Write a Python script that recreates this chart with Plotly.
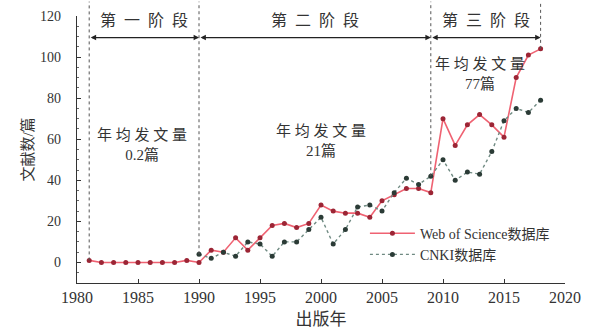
import plotly.graph_objects as go

years_wos = list(range(1981, 2019))
wos = [1, 0, 0, 0, 0, 0, 0, 0, 1, 0,
       6, 5, 12, 6, 12, 18, 19, 17, 19, 28,
       25, 24, 24, 22, 30, 33, 36, 36, 34, 70,
       57, 67, 72, 67, 61, 90, 101, 104]
years_cnki = list(range(1990, 2019))
cnki = [4, 2, 5, 3, 10, 9, 3, 10, 10, 16,
        22, 9, 16, 27, 28, 25, 34, 41, 38, 42,
        50, 40, 44, 43, 54, 69, 75, 73, 79]

stage_bounds = [1981, 1990, 2009, 2018]
stage_names = ["第\u2002一\u2002阶\u2002段", "第\u2002二\u2002阶\u2002段", "第\u2002三\u2002阶\u2002段"]
stage_avg = ["年 均 发 文 量<br>0.2篇", "年 均 发 文 量<br>21篇", "年 均 发 文 量<br>77篇"]
avg_pos = [(1985.3, 57), (2000.0, 59), (2013.0, 92)]

YMIN, YMAX = -10, 120
FONT = "Liberation Serif, Noto Sans CJK SC, serif"
TXT = "#333333"

def to_paper(v):
    return (v - YMIN) / (YMAX - YMIN)

fig = go.Figure()
fig.add_trace(go.Scatter(
    x=years_wos, y=wos, name="Web of Science数据库", mode="lines+markers",
    line=dict(color="#ef6272", width=1.6),
    marker=dict(color="#9c2535", size=5, symbol="circle"),
))
fig.add_trace(go.Scatter(
    x=years_cnki, y=cnki, name="CNKI数据库", mode="lines+markers",
    line=dict(color="#6f8a82", width=1.4, dash="dot"),
    marker=dict(color="#2b3b36", size=5, symbol="circle"),
))

def val_at(year):
    vals = []
    if year in years_wos:
        vals.append(wos[years_wos.index(year)])
    if year in years_cnki:
        vals.append(cnki[years_cnki.index(year)])
    return max(vals)

shapes = []
for b in stage_bounds:
    shapes.append(dict(type="line", xref="x", yref="paper", x0=b, x1=b,
                       y0=to_paper(val_at(b)), y1=to_paper(127),
                       line=dict(color="#555555", width=1, dash="dot")))

annotations = []
arrow_y = to_paper(109.5)
for i in range(3):
    a, b = stage_bounds[i], stage_bounds[i + 1]
    annotations.append(dict(x=b, y=arrow_y, xref="x", yref="paper",
                            ax=a, axref="x", ay=0, ayref="pixel",
                            showarrow=True, arrowhead=2, arrowside="end+start",
                            arrowsize=0.9, arrowwidth=1.2, arrowcolor="#222222",
                            text="", standoff=0, startstandoff=0))
    annotations.append(dict(x=(a + b) / 2, y=to_paper(118), xref="x", yref="paper",
                            yanchor="middle", text=stage_names[i], showarrow=False,
                            font=dict(family=FONT, size=16, color=TXT)))
    annotations.append(dict(x=avg_pos[i][0], y=to_paper(avg_pos[i][1]), xref="x", yref="paper",
                            yanchor="middle", text=stage_avg[i], showarrow=False,
                            font=dict(family=FONT, size=15, color=TXT)))

fig.update_layout(
    width=596, height=336,
    margin=dict(l=77, r=31, t=16, b=53),
    plot_bgcolor="white", paper_bgcolor="white",
    font=dict(family=FONT, size=13, color=TXT),
    shapes=shapes, annotations=annotations,
    showlegend=True,
    legend=dict(x=0.59, y=0.245, xanchor="left", yanchor="top",
                bgcolor="rgba(0,0,0,0)", font=dict(family=FONT, size=14, color=TXT),
                tracegroupgap=0, itemwidth=45),
    xaxis=dict(range=[1980, 2020], tickvals=[1980, 1985, 1990, 1995, 2000, 2005, 2010, 2015, 2020],
               showline=True, linecolor="#333333", linewidth=1.2, ticks="inside", ticklen=4,
               tickcolor="#333333", showgrid=False, zeroline=False, automargin=False,
               tickfont=dict(family=FONT, size=16, color=TXT),
               title=dict(text="出版年", font=dict(family=FONT, size=17, color=TXT), standoff=7)),
    yaxis=dict(range=[YMIN, YMAX], tickvals=[0, 20, 40, 60, 80, 100, 120],
               showline=True, linecolor="#333333", linewidth=1.2, ticks="inside", ticklen=4,
               tickcolor="#333333", showgrid=False, zeroline=False, automargin=False,
               minor=dict(ticks="inside", ticklen=2, dtick=5, tickcolor="#666666"),
               ticklabelstandoff=12,
               tickfont=dict(family=FONT, size=14, color=TXT),
               title=dict(text="文献数/篇", font=dict(family=FONT, size=15, color=TXT), standoff=2)),
)

fig.write_html("out.html")
